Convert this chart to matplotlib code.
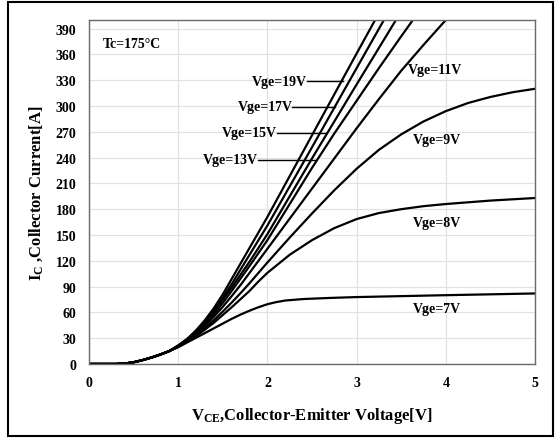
import matplotlib
matplotlib.use("Agg")
import matplotlib.pyplot as plt
from matplotlib.patches import Rectangle

plt.rcParams['font.family'] = ['Liberation Serif', 'DejaVu Serif']
plt.rcParams['font.weight'] = 'bold'
plt.rcParams['mathtext.fontset'] = 'custom'
plt.rcParams['mathtext.rm'] = 'Liberation Serif:bold'
plt.rcParams['mathtext.default'] = 'rm'

# --- data (V_CE [V], I_C [A]) ---
# common knee below 1 V
v_low = [0.0, 0.3, 0.4, 0.5, 0.6, 0.7, 0.8, 0.9]
i_low = [0.0, 0.0, 0.5, 2.0, 4.5, 7.5, 11.0, 15.0]

v_19 = [1.0, 1.1, 1.2, 1.3, 1.4, 1.5, 1.6, 1.7, 1.8, 1.9, 2.0, 2.5, 3.0, 3.25]
i_19 = [21.5, 29, 39, 51, 65, 81, 99, 117, 135, 153, 171, 266, 361, 408]

v_17 = [1.0, 1.1, 1.2, 1.3, 1.4, 1.5, 1.6, 1.7, 1.8, 1.9, 2.0, 2.5, 3.0, 3.35]
i_17 = [21.5, 29, 38.5, 50, 63, 77, 93, 110, 127, 144, 161, 252, 344, 408]

v_15 = [1.0, 1.1, 1.2, 1.3, 1.4, 1.5, 1.6, 1.7, 1.8, 1.9, 2.0, 2.25, 2.5, 3.0, 3.5]
i_15 = [21, 28.5, 37.5, 48.5, 61, 75, 89, 104, 119, 135, 151, 195, 239, 325, 410]

v_13 = [1.0, 1.1, 1.2, 1.3, 1.4, 1.5, 1.6, 1.7, 1.8, 1.9, 2.0, 2.25, 2.5, 2.75,
        3.0, 3.25, 3.5, 3.7]
i_13 = [21, 28, 36.5, 46.5, 58, 71, 85, 99.5, 114, 129, 144, 186, 228, 268,
        306, 344, 381, 410]

v_11 = [1.0, 1.1, 1.2, 1.3, 1.4, 1.5, 1.6, 1.7, 1.8, 1.9, 2.0, 2.25, 2.5, 2.75,
        3.0, 3.25, 3.5, 3.75, 4.0, 4.05]
i_11 = [20.5, 27.5, 35.5, 44.5, 55, 66.5, 79, 92, 106, 120, 134, 169, 204, 239,
        274, 308, 341, 371, 400, 406]

v_9 = [1.0, 1.1, 1.2, 1.3, 1.4, 1.5, 1.6, 1.7, 1.8, 1.9, 2.0, 2.25, 2.5, 2.75,
       3.0, 3.25, 3.5, 3.75, 4.0, 4.25, 4.5, 4.75, 5.0]
i_9 = [20.5, 27, 34, 42, 51, 61, 71.5, 82.5, 94, 106, 118, 147, 175, 202,
       227, 249, 267, 282, 294, 303.5, 310.5, 316, 320]

v_8 = [1.0, 1.1, 1.2, 1.3, 1.4, 1.5, 1.6, 1.7, 1.8, 1.9, 2.0, 2.25, 2.5, 2.75,
       3.0, 3.25, 3.5, 3.75, 4.0, 4.5, 5.0]
i_8 = [20, 26, 32.5, 40, 48, 57, 66, 75.5, 85, 96, 106, 127, 144, 158,
       168.5, 175.5, 180, 183.5, 186, 190, 193]

v_7 = [1.0, 1.1, 1.2, 1.3, 1.4, 1.5, 1.6, 1.7, 1.8, 1.9, 2.0, 2.1, 2.2, 2.4,
       2.7, 3.0, 4.0, 5.0]
i_7 = [19.5, 25, 30.5, 36, 41.5, 47, 52.5, 57.5, 62, 66, 69.5, 72, 73.8, 75.5,
       76.8, 77.8, 80, 82]

curves = [(v_19, i_19), (v_17, i_17), (v_15, i_15), (v_13, i_13),
          (v_11, i_11), (v_9, i_9), (v_8, i_8), (v_7, i_7)]

x_ticks = [0, 1, 2, 3, 4, 5]
y_ticks = list(range(0, 391, 30))

fig = plt.figure(figsize=(5.58, 4.39), dpi=100)
ax = fig.add_axes([0.1595, 0.1686, 0.7993, 0.7836])

for v, i in curves:
    ax.plot(v_low + v, i_low + i, color='black', linewidth=1.6,
            solid_joinstyle='round')

ax.set_xlim(0, 5)
ax.set_ylim(0, 400)
ax.set_xticks(x_ticks)
ax.set_yticks(y_ticks)
ax.tick_params(length=0, labelsize=10, pad=9)
for lbl in ax.get_xticklabels() + ax.get_yticklabels():
    lbl.set_fontweight('bold')
ax.grid(True, color='#e2e2e2', linewidth=0.9)
ax.set_axisbelow(True)
for s in ax.spines.values():
    s.set_color('#6a6a6a')
    s.set_linewidth(1.0)

ax.set_xlabel(r'V$_\mathrm{CE}$,Collector-Emitter Voltage[V]', fontsize=12,
              fontweight='bold', labelpad=11)
ax.set_ylabel(r'I$_\mathrm{C}$ ,Collector Current[A]', fontsize=12,
              fontweight='bold', labelpad=8)

ax.text(0.16, 373, 'Tc=175\u00b0C', fontsize=10, fontweight='bold', va='center')

# labels with leader lines
leaders = [('Vge=19V', 2.44, 2.85, 329), ('Vge=17V', 2.28, 2.76, 299),
           ('Vge=15V', 2.11, 2.66, 269), ('Vge=13V', 1.89, 2.55, 237.5)]
for txt, x0, x1, y in leaders:
    ax.text(x0, y, txt, fontsize=10, fontweight='bold', ha='right', va='center')
    ax.plot([x0, x1], [y, y], color='black', linewidth=1.0)

ax.text(3.58, 343, 'Vge=11V', fontsize=10, fontweight='bold', va='center')
ax.text(3.63, 261, 'Vge=9V', fontsize=10, fontweight='bold', va='center')
ax.text(3.63, 165, 'Vge=8V', fontsize=10, fontweight='bold', va='center')
ax.text(3.63, 64, 'Vge=7V', fontsize=10, fontweight='bold', va='center')

# outer frame
fig.patches.append(Rectangle((8 / 558, 2 / 439), 545 / 558, 434 / 439,
                             transform=fig.transFigure, fill=False,
                             edgecolor='black', linewidth=1.5))

plt.savefig('out.png', dpi=100)
